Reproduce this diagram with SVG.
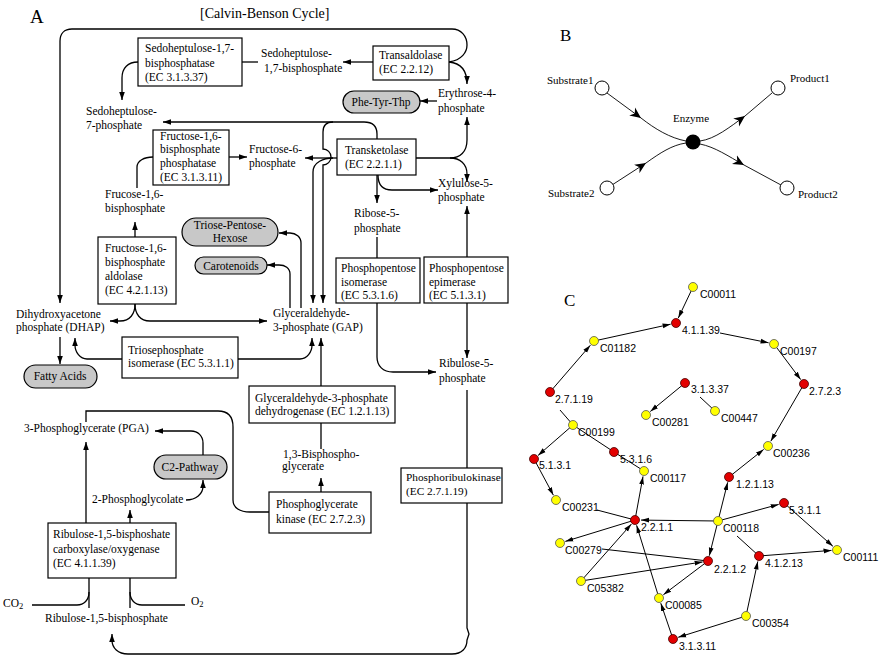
<svg xmlns="http://www.w3.org/2000/svg" width="883" height="663" viewBox="0 0 883 663">
<style>
.t{font-family:"Liberation Serif","Times New Roman",serif;font-size:11.5px;fill:#000}
.s{font-size:11.3px}
.tm{text-anchor:middle}
.bx{fill:#fff;stroke:#000;stroke-width:1.2}
.pl{fill:#c8c8c8;stroke:#000;stroke-width:1.2}
.ln{fill:none;stroke:#000;stroke-width:1.3}
.lb{fill:none;stroke:#000;stroke-width:0.9}
.lc{fill:none;stroke:#000;stroke-width:1}
.tb{font-family:"Liberation Serif","Times New Roman",serif;font-size:11px;fill:#000}
.tc{font-family:"Liberation Sans",Arial,sans-serif;font-size:10.5px;fill:#000}
.r{fill:#e30000;stroke:#400;stroke-width:0.8}
.y{fill:#ffff00;stroke:#555;stroke-width:0.8}
.h{font-family:"Liberation Serif","Times New Roman",serif;fill:#000}
</style>
<defs>
<marker id="a" viewBox="0 0 10 10" refX="10" refY="5" markerWidth="8" markerHeight="8" markerUnits="userSpaceOnUse" orient="auto"><path d="M0,1.5 L10,5 L0,8.5 z" fill="#000"/></marker>
<marker id="b" viewBox="0 0 10 10" refX="10" refY="5" markerWidth="11" markerHeight="11" markerUnits="userSpaceOnUse" orient="auto"><path d="M0,0.5 L10,5 L0,9.5 L3,5 z" fill="#000"/></marker>
<marker id="c" viewBox="0 0 10 10" refX="10" refY="5" markerWidth="8" markerHeight="8" markerUnits="userSpaceOnUse" orient="auto"><path d="M0,2 L10,5 L0,8 z" fill="#000"/></marker>
</defs>
<rect width="883" height="663" fill="#fff"/>

<!-- Panel A -->
<text class="h" x="30" y="23" font-size="19">A</text>
<text class="h" x="200" y="18" font-size="14">[Calvin-Benson Cycle]</text>

<g id="connectorsA">
<path class="ln" d="M449,62 C462,60 467,52 467,45 C467,36 461,29 452,29 L72,29 C64,29 60,34 60,41 L60,303" marker-end="url(#a)"/>
<path class="ln" d="M449,62 C460,63 467,70 467,84" marker-end="url(#a)"/>
<path class="ln" d="M373,62 L343,62" marker-end="url(#a)"/>
<path class="ln" d="M242,62 L258,62"/>
<path class="ln" d="M138,62 C128,62 122,68 122,78 L122,100" marker-end="url(#a)"/>
<path class="ln" d="M377,139 L377,134 C377,126 372,122 364,122 L163,122" marker-end="url(#a)"/>
<path class="ln" d="M333,122 C326,122 323,126 323,132 L323,149 A8,8 0 0 1 323,165 L323,303" marker-end="url(#a)"/>
<path class="ln" d="M333,158 C324,158 313,162 313,172 L313,303" marker-end="url(#a)"/>
<path class="ln" d="M337,158 L305,158" marker-end="url(#a)"/>
<path class="ln" d="M416,158 L450,158 C460,158 467,152 467,140 L467,117" marker-end="url(#a)"/>
<path class="ln" d="M450,158 C460,158 467,164 467,174 L467,182" marker-end="url(#a)"/>
<path class="ln" d="M377,175 L377,203" marker-end="url(#a)"/>
<path class="ln" d="M378,175 C378,185 383,190 392,190 L438,190" marker-end="url(#a)"/>
<path class="ln" d="M437,101 L420,101" marker-end="url(#a)"/>
<path class="ln" d="M467,257 L467,206" marker-end="url(#a)"/>
<path class="ln" d="M377,237 L377,258"/>
<path class="ln" d="M377,303 L377,357 C377,366 383,372 393,372 L436,372" marker-end="url(#a)"/>
<path class="ln" d="M467,303 L467,358" marker-end="url(#a)"/>
<path class="ln" d="M467,390 L467,468"/>
<path class="ln" d="M467,503 L467,628 L469,634 L467,640 C467,648 462,654 452,654 L128,654 C118,654 112,648 112,640 L112,634" marker-end="url(#a)"/>
<path class="ln" d="M89,578 L89,608 M130,578 L130,608"/>
<path class="ln" d="M32,605 L77,605 C84,605 89,600 89,592"/>
<path class="ln" d="M185,605 L142,605 C135,605 130,600 130,592"/>
<path class="ln" d="M86,523 L86,442" marker-end="url(#a)"/>
<path class="ln" d="M130,523 L130,510" marker-end="url(#a)"/>
<path class="ln" d="M86,422 L86,411 L218,411 C228,411 233,417 233,427 L233,500 C233,508 240,512 250,512 L270,512"/>
<path class="ln" d="M186,500 C196,500 203,494 203,486 L203,480" marker-end="url(#a)"/>
<path class="ln" d="M203,455 L203,443 C203,436 198,431 191,431 L155,431" marker-end="url(#a)"/>
<path class="ln" d="M321,492 L321,478" marker-end="url(#a)"/>
<path class="ln" d="M321,449 L321,423"/>
<path class="ln" d="M321,386 L321,338" marker-end="url(#a)"/>
<path class="ln" d="M238,359 L300,359 C307,359 312,352 312,345 L312,338" marker-end="url(#a)"/>
<path class="ln" d="M122,359 L87,359 C80,359 75,352 75,345 L75,338" marker-end="url(#a)"/>
<path class="ln" d="M60,337 L60,364" marker-end="url(#a)"/>
<path class="ln" d="M135,304 C135,314 130,321 120,321 L110,321" marker-end="url(#a)"/>
<path class="ln" d="M135,304 C135,314 140,321 150,321 L267,321" marker-end="url(#a)"/>
<path class="ln" d="M135,237 L135,222" marker-end="url(#a)"/>
<path class="ln" d="M137,188 L137,167 C137,161 144,157 153,157"/>
<path class="ln" d="M229,157 L247,157" marker-end="url(#a)"/>
<path class="ln" d="M301,308 L301,243 C301,237 296,233 290,233 L279,233" marker-end="url(#a)"/>
<path class="ln" d="M290,308 L290,274 C290,268 285,265 279,265 L267,265" marker-end="url(#a)"/>
</g>

<g id="sbpase"><rect class="bx" x="138" y="38" width="104" height="48"/><text class="t" x="145" y="52">Sedoheptulose-1,7-</text><text class="t" x="145" y="67">bisphosphatase</text><text class="t" x="145" y="81">(EC 3.1.3.37)</text></g>
<g id="s17bp"><text class="t" x="261" y="57">Sedoheptulose-</text><text class="t" x="264" y="72">1,7-bisphosphate</text></g>
<g id="transaldolase"><rect class="bx" x="373" y="46" width="76" height="34"/><text class="t" x="379" y="59">Transaldolase</text><text class="t" x="379" y="73">(EC 2.2.12)</text></g>
<g id="e4p"><text class="t" x="438" y="97">Erythrose-4-</text><text class="t" x="438" y="112">phosphate</text></g>
<g id="phetyr"><rect class="pl" x="343" y="91" width="77" height="22" rx="11"/><text class="t tm" x="381" y="106">Phe-Tyr-Thp</text></g>
<g id="s7p"><text class="t" x="86" y="115">Sedoheptulose-</text><text class="t" x="86" y="129">7-phosphate</text></g>
<g id="fbpase"><rect class="bx" x="153" y="130" width="76" height="55"/><text class="t" x="160" y="140">Fructose-1,6-</text><text class="t" x="160" y="153">bisphosphate</text><text class="t" x="160" y="167">phosphatase</text><text class="t" x="160" y="181">(EC 3.1.3.11)</text></g>
<g id="f6p"><text class="t" x="249" y="153">Fructose-6-</text><text class="t" x="249" y="167">phosphate</text></g>
<g id="transketolase"><rect class="bx" x="337" y="139" width="79" height="36"/><text class="t" x="345" y="154">Transketolase</text><text class="t" x="345" y="168">(EC 2.2.1.1)</text></g>
<g id="x5p"><text class="t" x="438" y="187">Xylulose-5-</text><text class="t" x="438" y="201">phosphate</text></g>
<g id="f16bp"><text class="t" x="105" y="198">Frucose-1,6-</text><text class="t" x="105" y="212">bisphosphate</text></g>
<g id="tph"><rect class="pl" x="182" y="218" width="96" height="28" rx="14"/><text class="t tm" x="230" y="229">Triose-Pentose-</text><text class="t tm" x="230" y="242">Hexose</text></g>
<g id="carotenoids"><rect class="pl" x="195" y="257" width="72" height="17" rx="8.5"/><text class="t tm" x="231" y="269.5">Carotenoids</text></g>
<g id="r5p"><text class="t" x="354" y="217">Ribose-5-</text><text class="t" x="354" y="232">phosphate</text></g>
<g id="aldolase"><rect class="bx" x="98" y="237" width="78" height="67"/><text class="t" x="105" y="252">Fructose-1,6-</text><text class="t" x="105" y="266">bisphosphate</text><text class="t" x="105" y="280">aldolase</text><text class="t" x="105" y="294">(EC 4.2.1.13)</text></g>
<g id="isomerase"><rect class="bx" x="336" y="258" width="84" height="45"/><text class="t" x="341" y="272">Phosphopentose</text><text class="t" x="341" y="285.5">isomerase</text><text class="t" x="341" y="299">(EC 5.3.1.6)</text></g>
<g id="epimerase"><rect class="bx" x="424" y="257" width="84" height="46"/><text class="t" x="429" y="272">Phosphopentose</text><text class="t" x="429" y="285.5">epimerase</text><text class="t" x="429" y="299">(EC 5.1.3.1)</text></g>
<g id="dhap"><text class="t" x="16" y="318">Dihydroxyacetone</text><text class="t" x="16" y="331">phosphate (DHAP)</text></g>
<g id="gap"><text class="t" x="273" y="317">Glyceraldehyde-</text><text class="t" x="273" y="331">3-phosphate (GAP)</text></g>
<g id="tpi"><rect class="bx" x="122" y="337" width="116" height="41"/><text class="t" x="128" y="354">Triosephosphate</text><text class="t" x="128" y="367">isomerase (EC 5.3.1.1)</text></g>
<g id="fatty"><rect class="pl" x="24" y="365" width="73" height="23" rx="11.5"/><text class="t tm" x="60" y="380">Fatty Acids</text></g>
<g id="ru5p"><text class="t" x="439" y="367">Ribulose-5-</text><text class="t" x="439" y="382">phosphate</text></g>
<g id="gapdh"><rect class="bx" x="249" y="386" width="146" height="37"/><text class="t" x="255" y="402">Glyceraldehyde-3-phosphate</text><text class="t" x="255" y="415">dehydrogenase (EC 1.2.1.13)</text></g>
<g id="pga"><text class="t" x="24" y="432">3-Phosphoglycerate (PGA)</text></g>
<g id="bpg"><text class="t" x="283" y="458">1,3-Bisphospho-</text><text class="t" x="282" y="470">glycerate</text></g>
<g id="c2"><rect class="pl" x="154" y="455" width="73" height="24" rx="12"/><text class="t tm" x="190" y="471">C2-Pathway</text></g>
<g id="prk"><rect class="bx" x="401" y="468" width="101" height="35"/><text class="t s" x="406" y="481">Phosphoribulokinase</text><text class="t s" x="406" y="495">(EC 2.7.1.19)</text></g>
<g id="pgk"><rect class="bx" x="269" y="492" width="102" height="41"/><text class="t" x="276" y="508">Phosphoglycerate</text><text class="t" x="276" y="523">kinase (EC 2.7.2.3)</text></g>
<g id="pglycolate"><text class="t" x="92" y="503">2-Phosphoglycolate</text></g>
<g id="rubisco"><rect class="bx" x="48" y="523" width="128" height="55"/><text class="t" x="53" y="538">Ribulose-1,5-bisphoshate</text><text class="t" x="53" y="553">carboxylase/oxygenase</text><text class="t" x="53" y="567">(EC 4.1.1.39)</text></g>
<g id="co2"><text class="t" x="3" y="607">CO<tspan font-size="8.5" dy="2">2</tspan></text></g>
<g id="o2"><text class="t" x="191" y="605">O<tspan font-size="8.5" dy="2">2</tspan></text></g>
<g id="rubp"><text class="t" x="45" y="622">Ribulose-1,5-bisphosphate</text></g>

<!-- Panel B -->
<text class="h" x="560" y="41" font-size="17">B</text>
<g id="connectorsB">
<path class="lb" d="M607,93 L641,118" marker-end="url(#b)"/>
<path class="lb" d="M641,118 C655,129 670,138 686,141"/>
<path class="lb" d="M612,185 L646,163" marker-end="url(#b)"/>
<path class="lb" d="M646,163 C660,153 672,145 686,143"/>
<path class="lb" d="M700,141 C715,139 730,127 745,116" marker-end="url(#b)"/>
<path class="lb" d="M745,116 L772,93"/>
<path class="lb" d="M700,144 C715,147 728,156 744,165" marker-end="url(#b)"/>
<path class="lb" d="M744,165 L781,185"/>
</g>
<g id="substrate1"><circle cx="602" cy="88" r="7" fill="#fff" stroke="#000"/><text class="tb" x="547" y="84">Substrate1</text></g>
<g id="product1"><circle cx="778" cy="88" r="7" fill="#fff" stroke="#000"/><text class="tb" x="790" y="82">Product1</text></g>
<g id="enzyme"><circle cx="693" cy="142" r="7.5" fill="#000"/><text class="tb" x="673" y="122">Enzyme</text></g>
<g id="substrate2"><circle cx="607" cy="188" r="7" fill="#fff" stroke="#000"/><text class="tb" x="548" y="197">Substrate2</text></g>
<g id="product2"><circle cx="787" cy="188" r="7" fill="#fff" stroke="#000"/><text class="tb" x="798" y="198">Product2</text></g>

<!-- Panel C -->
<text class="h" x="564" y="306" font-size="17">C</text>
<g id="connectorsC">
<path class="lc" d="M693,287 L678.3,318" marker-end="url(#c)"/>
<path class="lc" d="M594,341 L670.6,324.2" marker-end="url(#c)"/>
<path class="lc" d="M720,333 L768.6,342.8" marker-end="url(#c)"/>
<path class="lc" d="M774,344 L800.7,379.6" marker-end="url(#c)"/>
<path class="lc" d="M804,384 L770.8,441.2" marker-end="url(#c)"/>
<path class="lc" d="M550,392 L590.4,345.2" marker-end="url(#c)"/>
<path class="lc" d="M560,410 L573,425"/>
<path class="lc" d="M573,425 L538.1,455.4" marker-end="url(#c)"/>
<path class="lc" d="M573,425 L614,452"/>
<path class="lc" d="M534,459 L553.4,495.2" marker-end="url(#c)"/>
<path class="lc" d="M614,452 L644,471"/>
<path class="lc" d="M685,383 L650.3,411.5" marker-end="url(#c)"/>
<path class="lc" d="M700,397 L715,411"/>
<path class="lc" d="M718,521 L727.7,482.3" marker-end="url(#c)"/>
<path class="lc" d="M729,477 L763.7,449.4" marker-end="url(#c)"/>
<path class="lc" d="M718,521 L778.7,504.4" marker-end="url(#c)"/>
<path class="lc" d="M784,503 L832.9,546.3" marker-end="url(#c)"/>
<path class="lc" d="M718,521 L641,520.1" marker-end="url(#c)"/>
<path class="lc" d="M718,521 L709.3,555.7" marker-end="url(#c)"/>
<path class="lc" d="M737,536 L759,556"/>
<path class="lc" d="M759,556 L831.5,550.4" marker-end="url(#c)"/>
<path class="lc" d="M746,616 L757.8,561.4" marker-end="url(#c)"/>
<path class="lc" d="M746,616 L678.2,637.3" marker-end="url(#c)"/>
<path class="lc" d="M673,639 L660.8,603.2" marker-end="url(#c)"/>
<path class="lc" d="M659,598 L636.6,525.3" marker-end="url(#c)"/>
<path class="lc" d="M708,561 L663.4,594.7" marker-end="url(#c)"/>
<path class="lc" d="M597,510 L635,520"/>
<path class="lc" d="M635,520 L643,476.4" marker-end="url(#c)"/>
<path class="lc" d="M635,520 L565.3,541.4" marker-end="url(#c)"/>
<path class="lc" d="M581,581 L631.4,524.1" marker-end="url(#c)"/>
<path class="lc" d="M581,581 L702.6,561.9" marker-end="url(#c)"/>
<path class="lc" d="M602,549 L708,561"/>
</g>
<g id="C00011"><circle class="y" cx="693" cy="287" r="4.5"/><text class="tc" x="700" y="298">C00011</text></g>
<g id="ec41139"><circle class="r" cx="676" cy="323" r="4.5"/><text class="tc" x="682" y="334">4.1.1.39</text></g>
<g id="C01182"><circle class="y" cx="594" cy="341" r="4.5"/><text class="tc" x="600" y="352">C01182</text></g>
<g id="C00197"><circle class="y" cx="774" cy="344" r="4.5"/><text class="tc" x="780" y="355">C00197</text></g>
<g id="ec2723"><circle class="r" cx="804" cy="384" r="4.5"/><text class="tc" x="809" y="395">2.7.2.3</text></g>
<g id="ec27119"><circle class="r" cx="550" cy="392" r="4.5"/><text class="tc" x="555" y="403">2.7.1.19</text></g>
<g id="ec31337"><circle class="r" cx="685" cy="383" r="4.5"/><text class="tc" x="691" y="393">3.1.3.37</text></g>
<g id="C00281"><circle class="y" cx="646" cy="415" r="4.5"/><text class="tc" x="652" y="426">C00281</text></g>
<g id="C00447"><circle class="y" cx="715" cy="411" r="4.5"/><text class="tc" x="721" y="422">C00447</text></g>
<g id="C00199"><circle class="y" cx="573" cy="425" r="4.5"/><text class="tc" x="578" y="436">C00199</text></g>
<g id="C00236"><circle class="y" cx="768" cy="446" r="4.5"/><text class="tc" x="773" y="457">C00236</text></g>
<g id="ec5131"><circle class="r" cx="534" cy="459" r="4.5"/><text class="tc" x="539" y="469">5.1.3.1</text></g>
<g id="ec5316"><circle class="r" cx="614" cy="452" r="4.5"/><text class="tc" x="620" y="463">5.3.1.6</text></g>
<g id="C00117"><circle class="y" cx="644" cy="471" r="4.5"/><text class="tc" x="650" y="482">C00117</text></g>
<g id="ec12113"><circle class="r" cx="729" cy="477" r="4.5"/><text class="tc" x="736" y="488">1.2.1.13</text></g>
<g id="C00231"><circle class="y" cx="556" cy="500" r="4.5"/><text class="tc" x="562" y="511">C00231</text></g>
<g id="ec5311"><circle class="r" cx="784" cy="503" r="4.5"/><text class="tc" x="789" y="514">5.3.1.1</text></g>
<g id="ec2211"><circle class="r" cx="635" cy="520" r="4.5"/><text class="tc" x="641" y="531">2.2.1.1</text></g>
<g id="C00118"><circle class="y" cx="718" cy="521" r="4.5"/><text class="tc" x="723" y="532">C00118</text></g>
<g id="C00279"><circle class="y" cx="560" cy="543" r="4.5"/><text class="tc" x="565" y="554">C00279</text></g>
<g id="C00111"><circle class="y" cx="837" cy="550" r="4.5"/><text class="tc" x="843" y="561">C00111</text></g>
<g id="ec41213"><circle class="r" cx="759" cy="556" r="4.5"/><text class="tc" x="765" y="567">4.1.2.13</text></g>
<g id="ec2212"><circle class="r" cx="708" cy="561" r="4.5"/><text class="tc" x="714" y="573">2.2.1.2</text></g>
<g id="C05382"><circle class="y" cx="581" cy="581" r="4.5"/><text class="tc" x="587" y="592">C05382</text></g>
<g id="C00085"><circle class="y" cx="659" cy="598" r="4.5"/><text class="tc" x="665" y="609">C00085</text></g>
<g id="C00354"><circle class="y" cx="746" cy="616" r="4.5"/><text class="tc" x="752" y="627">C00354</text></g>
<g id="ec31311"><circle class="r" cx="673" cy="639" r="4.5"/><text class="tc" x="679" y="650">3.1.3.11</text></g>
</svg>
